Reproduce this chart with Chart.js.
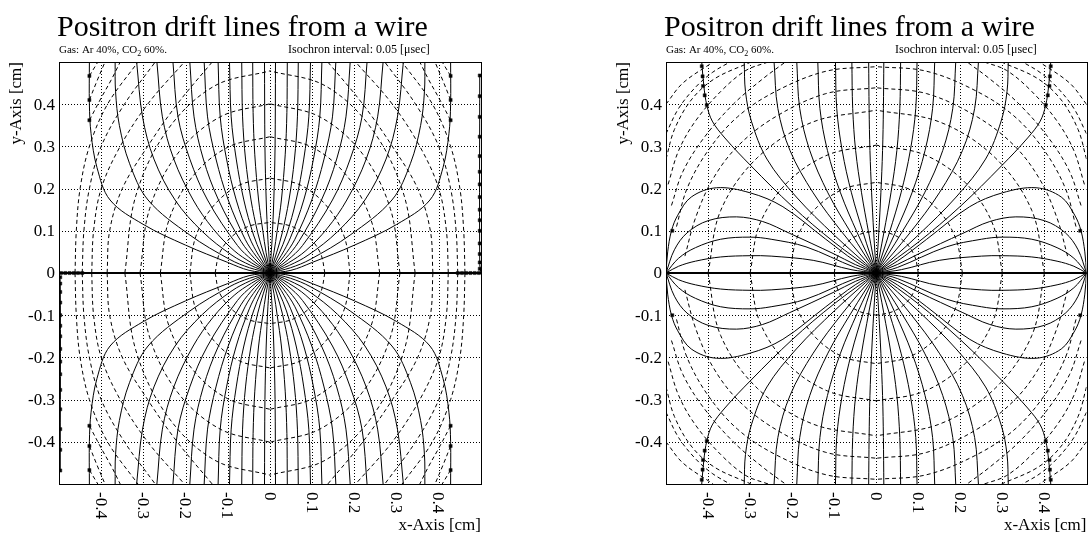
<!DOCTYPE html>
<html>
<head>
<meta charset="utf-8">
<script src="https://cdn.jsdelivr.net/npm/chart.js@4.4.0/dist/chart.umd.min.js"></script>
<style>
  html, body { margin: 0; padding: 0; background: #fff; }
  #wrap { position: relative; width: 1091px; height: 536px; }
  canvas { position: absolute; top: 0; }
</style>
</head>
<body>
<div id="wrap">
  <canvas id="leftChart" width="545" height="536" style="left:0"></canvas>
  <canvas id="rightChart" width="546" height="536" style="left:545px"></canvas>
</div>
<script>
// axis ticks (cm)
const tickValues = [-0.4, -0.3, -0.2, -0.1, 0, 0.1, 0.2, 0.3, 0.4];
const tickLabels = ['-0.4', '-0.3', '-0.2', '-0.1', '0', '0.1', '0.2', '0.3', '0.4'];

// left plot: drift lines read in the upper-left quadrant (mirrored to the others)
const leftDrift = [
  [[0,0],[-0.0496,0.0063],[-0.1,0.025],[-0.2,0.066],[-0.3,0.115],[-0.379,0.173],[-0.41,0.25],[-0.424,0.33],[-0.428,0.4],[-0.428,0.5]],
  [[0,0],[-0.0484,0.0124],[-0.095,0.032],[-0.19,0.09],[-0.289,0.173],[-0.333,0.26],[-0.357,0.35],[-0.366,0.43],[-0.367,0.5]],
  [[0,0],[-0.0465,0.0184],[-0.09,0.042],[-0.16,0.098],[-0.225,0.173],[-0.275,0.27],[-0.302,0.37],[-0.316,0.5]],
  [[0,0],[-0.0438,0.0241],[-0.085,0.053],[-0.135,0.105],[-0.182,0.173],[-0.228,0.27],[-0.255,0.37],[-0.268,0.5]],
  [[0,0],[-0.0405,0.0294],[-0.077,0.065],[-0.148,0.173],[-0.19,0.27],[-0.218,0.37],[-0.23,0.5]],
  [[0,0],[-0.0365,0.0342],[-0.068,0.074],[-0.122,0.173],[-0.158,0.27],[-0.18,0.37],[-0.19,0.5]],
  [[0,0],[-0.032,0.0385],[-0.059,0.08],[-0.099,0.173],[-0.128,0.27],[-0.148,0.37],[-0.156,0.5]],
  [[0,0],[-0.027,0.042],[-0.049,0.085],[-0.08,0.173],[-0.103,0.27],[-0.118,0.37],[-0.123,0.5]],
  [[0,0],[-0.021,0.045],[-0.039,0.09],[-0.062,0.173],[-0.08,0.27],[-0.092,0.37],[-0.096,0.5]],
  [[0,0],[-0.0155,0.0476],[-0.029,0.095],[-0.045,0.173],[-0.058,0.27],[-0.065,0.37],[-0.067,0.5]],
  [[0,0],[-0.0094,0.049],[-0.017,0.1],[-0.027,0.173],[-0.036,0.28],[-0.04,0.38],[-0.041,0.5]],
  [[0,0],[-0.003,0.05],[-0.005,0.08],[-0.009,0.173],[-0.012,0.3],[-0.013,0.5]]
];
// left plot: isochrons (dashed), upper-left quadrant
const leftIso = [
  [[-0.13,0],[-0.12,0.046],[-0.092,0.085],[-0.05,0.111],[0,0.12]],
  [[-0.19,0],[-0.176,0.086],[-0.134,0.159],[-0.073,0.208],[0,0.225]],
  [[-0.26,0],[-0.24,0.124],[-0.184,0.228],[-0.1,0.298],[0,0.323]],
  [[-0.308,0],[-0.285,0.153],[-0.218,0.284],[-0.118,0.37],[0,0.401]],
  [[-0.344,0],[-0.318,0.183],[-0.243,0.339],[-0.132,0.443],[0,0.479]],
  [[-0.386,0],[-0.38,0.1],[-0.35,0.2],[-0.29,0.3],[-0.22,0.4],[-0.137,0.5]],
  [[-0.4225,0],[-0.418,0.1],[-0.4,0.2],[-0.355,0.3],[-0.29,0.4],[-0.203,0.5]],
  [[-0.445,0],[-0.441,0.1],[-0.428,0.2],[-0.4,0.3],[-0.345,0.4],[-0.272,0.5]],
  [[-0.462,0],[-0.459,0.1],[-0.45,0.2],[-0.428,0.3],[-0.385,0.4],[-0.313,0.5]],
  [[-0.428,0.362],[-0.4,0.415],[-0.375,0.46],[-0.355,0.5]],
  [[-0.428,0.41],[-0.41,0.455],[-0.391,0.5]],
  [[-0.428,0.467],[-0.408,0.5]]
];
const leftCornerMarkY = [0.362, 0.41, 0.467];
const leftEdgeMarkY = [0.01, 0.025, 0.045, 0.07, 0.1, 0.125, 0.15, 0.18, 0.21, 0.24, 0.277, 0.323, 0.37, 0.419, 0.468];
const leftAxisMarkX = [0.445, 0.455, 0.465, 0.475, 0.485, 0.495];

// right plot: drift lines, upper-left quadrant (first four end on the side wire)
const rightDrift = [
  [[0,0],[-0.06,0.008],[-0.15,0.03],[-0.25,0.04],[-0.3,0.041],[-0.37,0.038],[-0.43,0.028],[-0.47,0.016],[-0.5,0]],
  [[0,0],[-0.05,0.013],[-0.167,0.062],[-0.25,0.08],[-0.3,0.085],[-0.37,0.08],[-0.43,0.06],[-0.47,0.035],[-0.5,0]],
  [[0,0],[-0.05,0.02],[-0.1,0.045],[-0.206,0.094],[-0.27,0.122],[-0.332,0.133],[-0.4,0.124],[-0.45,0.095],[-0.48,0.055],[-0.5,0]],
  [[0,0],[-0.05,0.028],[-0.12,0.08],[-0.222,0.157],[-0.3,0.19],[-0.38,0.202],[-0.44,0.18],[-0.472,0.137],[-0.487,0.1],[-0.496,0.05],[-0.5,0]],
  [[0,0],[-0.1,0.073],[-0.2,0.158],[-0.298,0.254],[-0.36,0.32],[-0.39,0.36],[-0.403,0.398],[-0.41,0.443],[-0.415,0.5]],
  [[0,0],[-0.1,0.09],[-0.19,0.18],[-0.26,0.27],[-0.297,0.36],[-0.311,0.43],[-0.314,0.5]],
  [[0,0],[-0.08,0.095],[-0.15,0.19],[-0.205,0.29],[-0.234,0.39],[-0.243,0.5]],
  [[0,0],[-0.06,0.095],[-0.115,0.19],[-0.158,0.29],[-0.182,0.39],[-0.189,0.5]],
  [[0,0],[-0.045,0.095],[-0.085,0.19],[-0.116,0.29],[-0.134,0.39],[-0.139,0.5]],
  [[0,0],[-0.031,0.095],[-0.059,0.19],[-0.081,0.29],[-0.094,0.39],[-0.097,0.5]],
  [[0,0],[-0.018,0.095],[-0.035,0.19],[-0.049,0.29],[-0.056,0.39],[-0.058,0.5]],
  [[0,0],[-0.006,0.095],[-0.011,0.19],[-0.015,0.29],[-0.017,0.39],[-0.018,0.5]]
];
// right plot: isochrons, upper-left quadrant
const rightIso = [
  [[-0.1,0],[-0.092,0.038],[-0.071,0.071],[-0.038,0.092],[0,0.1]],
  [[-0.205,0],[-0.189,0.082],[-0.145,0.152],[-0.078,0.199],[0,0.215]],
  [[-0.3,0],[-0.277,0.116],[-0.212,0.214],[-0.115,0.28],[0,0.303]],
  [[-0.4,0],[-0.37,0.148],[-0.283,0.273],[-0.153,0.357],[0,0.386]],
  [[-0.455,0.04],[-0.43,0.13],[-0.39,0.22],[-0.33,0.3],[-0.24,0.37],[-0.12,0.425],[0,0.439]],
  [[-0.475,0.11],[-0.45,0.2],[-0.4,0.29],[-0.33,0.37],[-0.24,0.43],[-0.12,0.478],[0,0.489]],
  [[-0.487,0.16],[-0.46,0.24],[-0.41,0.32],[-0.34,0.4],[-0.27,0.46],[-0.216,0.5]],
  [[-0.495,0.21],[-0.47,0.29],[-0.43,0.36],[-0.37,0.43],[-0.31,0.48],[-0.257,0.5]],
  [[-0.5,0.27],[-0.48,0.34],[-0.44,0.41],[-0.385,0.46],[-0.298,0.5]],
  [[-0.5,0.33],[-0.47,0.39],[-0.43,0.44],[-0.39,0.475],[-0.348,0.5]],
  [[-0.5,0.4],[-0.46,0.45],[-0.388,0.5]]
];
const rightCornerMarks = [[-0.403,0.398],[-0.408,0.421],[-0.412,0.443],[-0.413,0.466],[-0.415,0.49]];
const rightSideMarks = [[-0.485,0.1]];

const quad = pts => [
  pts,
  pts.map(([x, y]) => [-x, y]),
  pts.map(([x, y]) => [x, -y]),
  pts.map(([x, y]) => [-x, -y])
];
const toXY = pts => pts.map(([x, y]) => ({ x, y }));

function lineSet(pts, dash, width) {
  return {
    data: toXY(pts), showLine: true, borderColor: '#000', borderWidth: width || 1,
    borderDash: dash || [], pointRadius: 0, tension: 0.35, fill: false
  };
}
function markSet(pts) {
  return {
    data: toXY(pts), showLine: false, pointStyle: 'rect', pointRadius: 2.2,
    backgroundColor: '#000', borderColor: '#222', borderWidth: 0.5
  };
}

function leftDatasets() {
  const ds = [];
  ds.push(lineSet([[-0.5,0],[0.5,0]], [], 2));
  ds.push(lineSet([[-0.5,0],[-0.497,-0.02],[-0.497,-0.47]]));
  ds.push(lineSet([[0.5,0],[0.497,0.02],[0.497,0.47]]));
  leftDrift.forEach(l => quad(l).forEach(q => ds.push(lineSet(q))));
  leftIso.forEach(l => quad(l).forEach(q => ds.push(lineSet(q, [4, 3]))));
  ds.push(markSet(quad(leftCornerMarkY.map(y => [-0.428, y])).flat()));
  ds.push(markSet(leftEdgeMarkY.map(y => [-0.497, -y]).concat(leftEdgeMarkY.map(y => [0.497, y]))));
  ds.push(markSet(leftAxisMarkX.map(x => [-x, 0]).concat(leftAxisMarkX.map(x => [x, 0]))));
  return ds;
}
function rightDatasets() {
  const ds = [];
  ds.push(lineSet([[-0.5,0],[0.5,0]], [], 2));
  rightDrift.forEach(l => quad(l).forEach(q => ds.push(lineSet(q))));
  rightIso.forEach(l => quad(l).forEach(q => ds.push(lineSet(q, [4, 3]))));
  ds.push(markSet(quad(rightCornerMarks).flat()));
  ds.push(markSet(quad(rightSideMarks).flat()));
  return ds;
}

const SERIF = '"Liberation Serif", "DejaVu Serif", serif';

// dotted grid under the curves
const gridPlugin = {
  id: 'dotGrid',
  beforeDatasetsDraw(chart) {
    const { ctx, chartArea: a, scales: { x, y } } = chart;
    ctx.save();
    ctx.strokeStyle = '#000';
    ctx.lineWidth = 1;
    ctx.setLineDash([1, 2]);
    tickValues.forEach(v => {
      const px = Math.round(x.getPixelForValue(v)) + 0.5;
      ctx.beginPath(); ctx.moveTo(px, a.top); ctx.lineTo(px, a.bottom); ctx.stroke();
      const py = Math.round(y.getPixelForValue(v)) + 0.5;
      ctx.beginPath(); ctx.moveTo(a.left, py); ctx.lineTo(a.right, py); ctx.stroke();
    });
    ctx.restore();
  }
};

// frame, tick labels and all the texts
const textPlugin = {
  id: 'texts',
  afterDraw(chart) {
    const { ctx, chartArea: a, scales: { x, y } } = chart;
    ctx.save();
    ctx.strokeStyle = '#000';
    ctx.lineWidth = 1;
    ctx.strokeRect(Math.round(a.left) + 0.5, Math.round(a.top) + 0.5,
      Math.round(a.right - a.left), Math.round(a.bottom - a.top));
    ctx.fillStyle = '#000';

    ctx.font = '30px ' + SERIF;
    ctx.textAlign = 'left';
    ctx.textBaseline = 'alphabetic';
    ctx.fillText('Positron drift lines from a wire', a.left - 2, 36);

    ctx.font = '11px ' + SERIF;
    let tx = a.left;
    const s1 = 'Gas: Ar 40%, CO';
    ctx.fillText(s1, tx, 53);
    tx += ctx.measureText(s1).width;
    ctx.font = '8px ' + SERIF;
    ctx.fillText('2', tx, 56);
    tx += ctx.measureText('2').width;
    ctx.font = '11px ' + SERIF;
    ctx.fillText(' 60%.', tx, 53);
    ctx.font = '12px ' + SERIF;
    ctx.fillText('Isochron interval: 0.05 [\u03bcsec]', a.left + 229, 53);

    ctx.font = '17px ' + SERIF;
    ctx.textAlign = 'right';
    ctx.textBaseline = 'middle';
    tickValues.forEach((v, i) => {
      ctx.fillText(tickLabels[i], a.left - 4, y.getPixelForValue(v) + 1);
    });
    tickValues.forEach((v, i) => {
      ctx.save();
      ctx.translate(x.getPixelForValue(v) - 1, a.bottom + 8);
      ctx.rotate(Math.PI / 2);
      ctx.textAlign = 'left';
      ctx.fillText(tickLabels[i], 0, 0);
      ctx.restore();
    });

    ctx.textAlign = 'right';
    ctx.textBaseline = 'alphabetic';
    ctx.fillText('x-Axis [cm]', a.right, 530);
    ctx.save();
    ctx.translate(a.left - 42, a.top);
    ctx.rotate(-Math.PI / 2);
    ctx.textAlign = 'right';
    ctx.textBaseline = 'middle';
    ctx.fillText('y-Axis [cm]', 0, 0);
    ctx.restore();
    ctx.restore();
  }
};

function makeChart(id, datasets, pad) {
  return new Chart(document.getElementById(id), {
    type: 'scatter',
    data: { datasets },
    options: {
      responsive: false,
      animation: false,
      devicePixelRatio: 1,
      layout: { padding: pad },
      plugins: { legend: { display: false }, tooltip: { enabled: false } },
      scales: {
        x: { type: 'linear', min: -0.5, max: 0.5, display: false },
        y: { type: 'linear', min: -0.5, max: 0.5, display: false }
      }
    },
    plugins: [gridPlugin, textPlugin]
  });
}

makeChart('leftChart', leftDatasets(), { left: 59, right: 64, top: 62, bottom: 52 });
makeChart('rightChart', rightDatasets(), { left: 121, right: 3, top: 62, bottom: 52 });
</script>
</body>
</html>
